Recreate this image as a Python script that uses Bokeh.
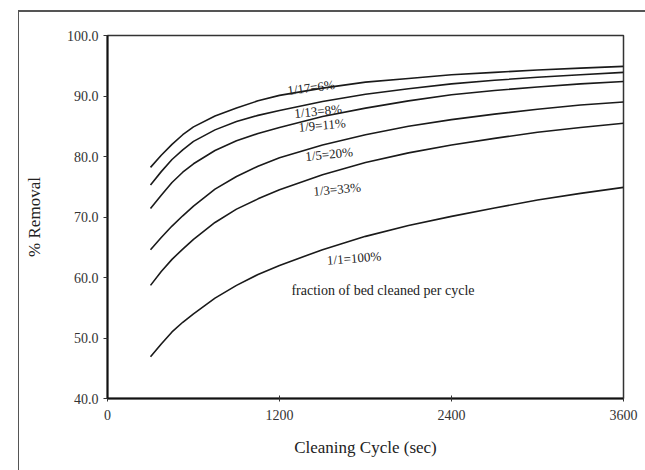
from bokeh.plotting import figure
from bokeh.embed import file_html
from bokeh.resources import INLINE
from bokeh.models import FixedTicker, NumeralTickFormatter, Range1d, Label

# ---- data ----
cycle_sec = [300, 375, 450, 525, 600, 750, 900, 1050, 1200, 1500, 1800, 2100, 2400, 2700, 3000, 3300, 3600]
removal_1_17 = [78.2, 80.2, 82.0, 83.6, 84.9, 86.7, 88.0, 89.2, 90.1, 91.3, 92.3, 92.9, 93.5, 93.9, 94.3, 94.6, 94.9]
removal_1_13 = [75.3, 77.5, 79.5, 81.1, 82.5, 84.4, 85.8, 86.8, 87.6, 89.1, 90.3, 91.2, 92.0, 92.6, 93.1, 93.5, 93.9]
removal_1_9 = [71.4, 73.6, 75.7, 77.4, 78.8, 81.0, 82.6, 83.8, 84.8, 86.6, 88.0, 89.2, 90.2, 90.9, 91.5, 92.0, 92.4]
removal_1_5 = [64.6, 66.6, 68.5, 70.2, 71.8, 74.6, 76.7, 78.4, 79.8, 81.9, 83.6, 85.0, 86.1, 87.0, 87.8, 88.5, 89.0]
removal_1_3 = [58.7, 61.0, 63.0, 64.7, 66.3, 69.1, 71.3, 73.0, 74.5, 77.0, 79.0, 80.6, 81.9, 83.0, 84.0, 84.8, 85.5]
removal_1_1 = [46.9, 49.0, 51.0, 52.6, 54.0, 56.6, 58.7, 60.5, 62.0, 64.6, 66.8, 68.6, 70.1, 71.5, 72.8, 73.9, 74.9]

series = [removal_1_17, removal_1_13, removal_1_9, removal_1_5, removal_1_3, removal_1_1]
series_labels = ["1/17=6%", "1/13=8%", "1/9=11%", "1/5=20%", "1/3=33%", "1/1=100%"]
label_x = [1420, 1469, 1497, 1546, 1602, 1720]
label_y = [91.4, 87.5, 85.2, 80.4, 74.6, 63.2]
label_angle = [0.13, 0.10, 0.09, 0.10, 0.09, 0.08]

note_text = "fraction of bed cleaned per cycle"
note_x, note_y = 1922, 57.9

x_ticks = [0, 1200, 2400, 3600]
y_ticks = [40, 50, 60, 70, 80, 90, 100]

FONT = "Liberation Serif"

p = figure(width=627, height=460, output_backend="svg", toolbar_location=None,
           x_range=Range1d(0, 3600), y_range=Range1d(40, 100),
           min_border_left=88, min_border_right=23, min_border_top=23, min_border_bottom=74,
           margin=(10, 0, 0, 18))
# outer frame of the scanned page (only its top and left edges are visible)
p.styles = {"border-top": "2px solid #555", "border-left": "1px solid #555"}

p.background_fill_color = "white"
p.border_fill_color = "white"
p.xgrid.visible = False
p.ygrid.visible = False
p.outline_line_color = "#333333"
p.outline_line_width = 1.5

for ys in series:
    p.line(cycle_sec, ys, line_color="#1a1a1a", line_width=1.6)

for t, x, y, a in zip(series_labels, label_x, label_y, label_angle):
    p.add_layout(Label(x=x, y=y, text=t, angle=a, text_align="center", text_baseline="middle",
                       text_font=FONT, text_font_size="13px", text_color="#222222"))

p.add_layout(Label(x=note_x, y=note_y, text=note_text, text_align="center", text_baseline="middle",
                   text_font=FONT, text_font_size="14px", text_color="#222222"))

p.xaxis.ticker = FixedTicker(ticks=x_ticks)
p.yaxis.ticker = FixedTicker(ticks=y_ticks)
p.yaxis.formatter = NumeralTickFormatter(format="0.0")
p.xaxis.minor_tick_line_color = None
p.yaxis.minor_tick_line_color = None
p.xaxis.major_tick_in = 3
p.xaxis.major_tick_out = 3
p.yaxis.major_tick_in = 0
p.yaxis.major_tick_out = 4

for ax in (p.xaxis, p.yaxis):
    ax.axis_line_width = 2
    ax.axis_line_color = "#111111"
    ax.major_tick_line_color = "#333333"
    ax.major_label_text_font = FONT
    ax.major_label_text_font_size = "14px"
    ax.major_label_text_color = "#333333"
    ax.axis_label_text_font = FONT
    ax.axis_label_text_font_size = "17px"
    ax.axis_label_text_font_style = "normal"
    ax.axis_label_text_color = "#222222"

p.xaxis.axis_label = "Cleaning Cycle (sec)"
p.yaxis.axis_label = "% Removal"
p.xaxis.major_label_standoff = 8
p.xaxis.axis_label_standoff = 15
p.yaxis.axis_label_standoff = 20

open("out.html", "w").write(file_html(p, INLINE))
